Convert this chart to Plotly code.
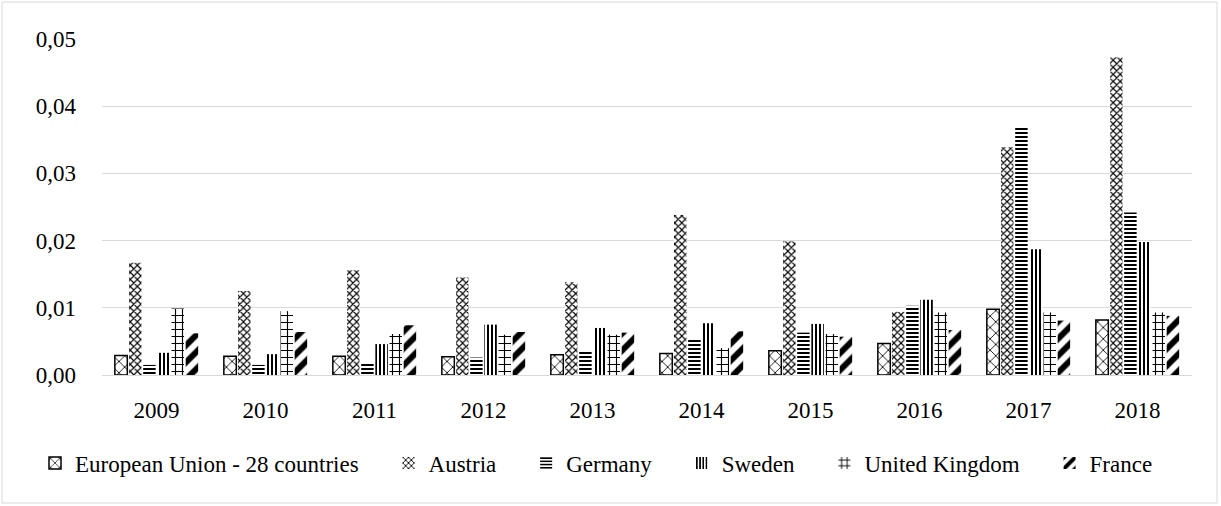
import plotly.graph_objects as go

years = ["2009", "2010", "2011", "2012", "2013", "2014", "2015", "2016", "2017", "2018"]

eu = [0.0029, 0.0028, 0.0028, 0.0027, 0.0030, 0.0032, 0.0036, 0.0047, 0.0098, 0.0082]
austria = [0.0167, 0.0125, 0.0156, 0.0145, 0.0138, 0.0238, 0.0199, 0.0094, 0.0339, 0.0473]
germany = [0.0015, 0.0015, 0.0019, 0.0026, 0.0037, 0.0053, 0.0063, 0.0103, 0.0370, 0.0242]
sweden = [0.0033, 0.0031, 0.0046, 0.0075, 0.0070, 0.0077, 0.0076, 0.0112, 0.0187, 0.0198]
uk = [0.0099, 0.0095, 0.0061, 0.0060, 0.0060, 0.0040, 0.0061, 0.0093, 0.0093, 0.0093]
france = [0.0062, 0.0064, 0.0074, 0.0064, 0.0063, 0.0065, 0.0057, 0.0067, 0.0081, 0.0088]

series_names = ["European Union - 28 countries", "Austria", "Germany", "Sweden", "United Kingdom", "France"]
series_values = [eu, austria, germany, sweden, uk, france]

styles = [
    dict(shape="x", size=8, solidity=0.2, line=1.5),
    dict(shape="x", size=5, solidity=0.4, line=0),
    dict(shape="-", size=4, solidity=0.5, line=0),
    dict(shape="|", size=4, solidity=0.5, line=0),
    dict(shape="+", size=7, solidity=0.3, line=0),
    dict(shape="/", size=12, solidity=0.5, line=0),
]

NB = "\u00a0" * 4 + "\u200a"

font_family = "Liberation Serif"
FS = 23
tfont = dict(family=font_family, size=FS, color="black")

fig = go.Figure()
for i, (name, vals, st) in enumerate(zip(series_names, series_values, styles)):
    label = name + (NB if i < len(series_names) - 1 else "")
    fig.add_trace(go.Bar(
        name=label, x=years, y=vals,
        marker=dict(
            color="white",
            line=dict(color="black", width=st["line"]),
            pattern=dict(shape=st["shape"], size=st["size"], solidity=st["solidity"],
                         fgcolor="black", fgopacity=1, bgcolor="white", fillmode="overlay"),
        ),
    ))

fig.update_layout(
    width=1221, height=506,
    barmode="group", bargap=0.22, bargroupgap=0.12,
    paper_bgcolor="white", plot_bgcolor="white",
    margin=dict(l=102, r=29, t=39, b=131, autoexpand=False),
    separators=", ",
    font=tfont,
    showlegend=True,
    legend=dict(orientation="h", x=(35 - 102) / 1090, xanchor="left",
                y=(375 - 463) / 336, yanchor="middle",
                font=tfont, itemwidth=30, traceorder="normal"),
    xaxis=dict(showline=True, linecolor="#d9d9d9", linewidth=1, ticks="", showgrid=False,
               tickfont=tfont, ticklabelstandoff=14),
    yaxis=dict(range=[0, 0.05], dtick=0.01, tickformat=".2f", showgrid=True,
               gridcolor="#d9d9d9", gridwidth=1, zeroline=False, showline=False,
               ticks="", ticklen=0, tickfont=tfont, ticklabelstandoff=25),
    shapes=[dict(type="rect", xref="paper", yref="paper",
                 x0=(2 - 102) / 1090, x1=(1217 - 102) / 1090,
                 y0=(375 - 503) / 336, y1=(375 - 2) / 336,
                 line=dict(color="#d9d9d9", width=1), fillcolor="rgba(0,0,0,0)", layer="below")],
)

fig.write_html("out.html", config={"displayModeBar": False},
               post_script="document.body.style.margin='0px';")
